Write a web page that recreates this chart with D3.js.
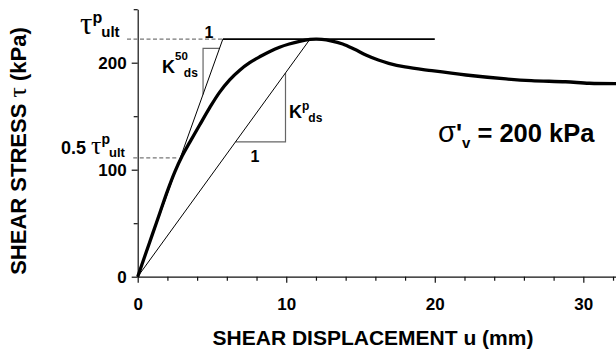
<!DOCTYPE html>
<html><head><meta charset="utf-8">
<script src="https://cdn.jsdelivr.net/npm/d3@7"></script>
<style>
html,body{margin:0;padding:0;background:#fff;}
svg{display:block;}
text{font-family:"Liberation Sans",Arial,sans-serif;font-weight:bold;fill:#000;}
.greek{font-family:"Liberation Serif","Times New Roman",serif;font-weight:normal;}
.greeks{font-family:"Liberation Sans",Arial,sans-serif;font-weight:normal;}
</style></head>
<body>
<svg id="c" width="616" height="354"></svg>
<script>
// ---- data ----
const curveX = [0,0.5,1.0,1.5,2.0,2.5,3.0,3.5,4.18,4.85,5.52,6.19,6.87,7.54,8.21,8.9,9.55,10.2,10.9,11.6,12.0,12.4,13.0,13.8,14.6,15.4,16.2,16.9,18.0,19.8,22.1,24.8,26.5,28.8,30.4,32.2];
const curveY = [0,20,40,60,80,98,113,125.5,142,158,172.5,184,193,200,205.5,210.5,214.5,217.5,220,221.7,222,221.8,220.5,217.5,212.5,207,202.5,199.4,196,192.5,188.5,184.8,183.2,182.2,180.8,180.5];
const xTicksMajor = [0,10,20,30];
const xTicksMinor = [2,4,6,8,12,14,16,18,22,24,26,28,32];
const yTicksMajor = [0,100,200];
const yTicksMinor = [50,150,250];
const tauUlt = 222;
const k50Line = [[0,0],[5.73,222]];
const plateauLine = [[5.73,222],[20,222]];
const kpLine = [[0,0],[11.6,222]];
const k50Tri = [[4.4,170.3],[4.4,213.4],[5.51,213.4]];
const kpTri = [[6.58,126],[9.95,126],[9.95,190.4]];
const dashUlt = [[-0.72,222],[5.73,222]];
const dashHalf = [[-0.3,111],[2.75,111]];

// ---- scales ----
const svg = d3.select("#c");
const x = d3.scaleLinear().domain([0,32.2]).range([137.7,616]);
const y = d3.scaleLinear().domain([0,250]).range([276.7,9.2]);
const line = d3.line().x(d=>x(d[0])).y(d=>y(d[1]));

// axes
const gx = svg.append("g").attr("transform",`translate(0,${y(0)})`);
gx.call(d3.axisBottom(x).tickValues(xTicksMajor).tickSize(6).tickSizeOuter(0).tickPadding(15).tickFormat(d3.format("d")));
const gxm = svg.append("g").attr("transform",`translate(0,${y(0)})`);
gxm.call(d3.axisBottom(x).tickValues(xTicksMinor).tickSize(4).tickSizeOuter(0).tickFormat(""));
gxm.select(".domain").remove();
const gy = svg.append("g").attr("transform",`translate(${x(0)},0)`);
gy.call(d3.axisLeft(y).tickValues(yTicksMajor).tickSize(6).tickSizeOuter(0).tickPadding(5).tickFormat(d3.format("d")));
const gym = svg.append("g").attr("transform",`translate(${x(0)},0)`);
gym.call(d3.axisLeft(y).tickValues(yTicksMinor).tickSize(4).tickSizeOuter(0).tickFormat(""));
gym.select(".domain").remove();
svg.selectAll(".domain,.tick line").attr("stroke","#111").attr("stroke-width",1.2);
svg.selectAll(".tick text").style("font-size","17px").style("font-family","'Liberation Sans',Arial,sans-serif").style("font-weight","bold").attr("fill","#000");
gy.selectAll(".tick text").attr("dy","0.36em");

// dashed guide lines
[dashUlt,dashHalf].forEach(p=>svg.append("path").attr("d",line(p)).attr("fill","none")
  .attr("stroke","#777").attr("stroke-width",1.3).attr("stroke-dasharray","4,2.5"));

// triangles
[k50Tri,kpTri].forEach(p=>svg.append("path").attr("d",line(p)).attr("fill","none")
  .attr("stroke","#666").attr("stroke-width",1.2));

// tangent/secant lines
[k50Line,kpLine].forEach(p=>svg.append("path").attr("d",line(p)).attr("fill","none")
  .attr("stroke","#000").attr("stroke-width",1));
svg.append("path").attr("d",line(plateauLine)).attr("fill","none").attr("stroke","#000").attr("stroke-width",1.6);

// main curve
const pts = curveX.map((v,i)=>[v,curveY[i]]);
svg.append("path").attr("d",d3.line().x(d=>x(d[0])).y(d=>y(d[1])).curve(d3.curveCatmullRom)(pts))
  .attr("fill","none").attr("stroke","#000").attr("stroke-width",3.3).attr("stroke-linejoin","round");

// axis titles
svg.append("text").attr("x",373).attr("y",345).attr("text-anchor","middle").style("font-size","21px")
  .text("SHEAR DISPLACEMENT u (mm)");
const yt = svg.append("text").attr("transform","translate(26,151) rotate(-90)").attr("text-anchor","middle").style("font-size","22px");
yt.append("tspan").text("SHEAR STRESS ");
yt.append("tspan").attr("class","greek").style("font-size","26px").text("τ");
yt.append("tspan").text("  (kPa)");

// tau_ult label
const t1 = svg.append("text").attr("x",80).attr("y",34);
t1.append("tspan").attr("class","greek").style("font-size","31px").text("τ");
t1.append("tspan").attr("dy",-11).style("font-size","16px").text("p");
t1.append("tspan").attr("dx",-1).attr("dy",14).style("font-size","15px").text("ult");

const t2 = svg.append("text").attr("x",61).attr("y",154);
t2.append("tspan").style("font-size","18px").text("0.5 ");
t2.append("tspan").attr("class","greek").style("font-size","26px").text("τ");
t2.append("tspan").attr("dy",-10).style("font-size","14px").text("p");
t2.append("tspan").attr("dx",-1).attr("dy",12.5).style("font-size","13px").text("ult");

// K50 label
const t3 = svg.append("text").attr("x",162).attr("y",73);
t3.append("tspan").style("font-size","18px").text("K");
t3.append("tspan").attr("dy",-13).style("font-size","11.5px").text("50");
t3.append("tspan").attr("dx",-4).attr("dy",17).style("font-size","12px").text("ds");
svg.append("text").attr("x",209).attr("y",38).attr("text-anchor","middle").style("font-size","16px").text("1");

// Kp label
const t4 = svg.append("text").attr("x",289).attr("y",118);
t4.append("tspan").style("font-size","18px").text("K");
t4.append("tspan").attr("dy",-8).style("font-size","12px").text("p");
t4.append("tspan").attr("dx",-1).attr("dy",12).style("font-size","12px").text("ds");
svg.append("text").attr("x",255).attr("y",162).attr("text-anchor","middle").style("font-size","16px").text("1");

// sigma label
const t5 = svg.append("text").attr("x",438).attr("y",141.5).style("font-size","25.5px");
t5.append("tspan").attr("class","greeks").style("font-size","29px").text("σ");
t5.append("tspan").text("'");
t5.append("tspan").attr("dy",6).style("font-size","15px").text("v");
t5.append("tspan").attr("dy",-6).text(" = 200 kPa");
</script>
</body></html>
